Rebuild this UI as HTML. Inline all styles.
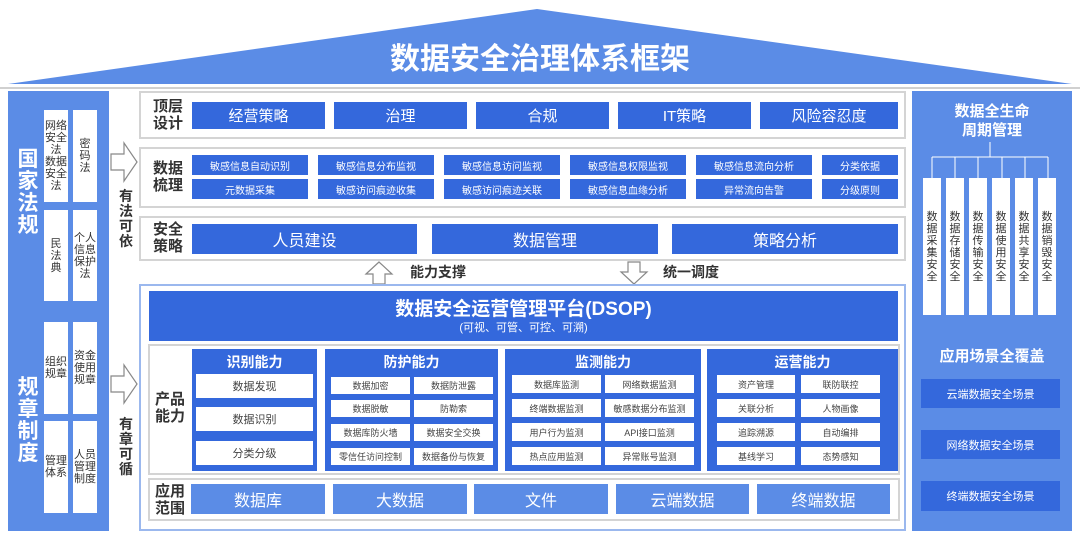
<!DOCTYPE html>
<html><head><meta charset="utf-8"><style>
*{margin:0;padding:0;box-sizing:border-box}
body{width:1080px;height:541px;background:#fff;position:relative;overflow:hidden;font-family:"Liberation Sans","Noto Sans CJK SC",sans-serif}
.a{position:absolute}
.c{display:flex;align-items:center;justify-content:center;text-align:center}
.b{background:#3468dc;color:#fff}
.lb{background:#5b8ce6}
.w{background:#fff;color:#444}
.g{border:2px solid #d4d4d4;background:#fff}
.lab{font-weight:bold;color:#333;font-size:15px;line-height:17px}
.vt{font-size:11px;line-height:12px;color:#333}
</style></head><body>
<svg class="a" style="left:0;top:0" width="1080" height="92">
<polygon points="8,84 537,9 1072,84" fill="#5b8ce6"/>
<line x1="0" y1="88" x2="1080" y2="88" stroke="#d0d0d0" stroke-width="2"/>
</svg>
<div class="a c" style="left:300px;top:36px;width:480px;height:40px;color:#fff;font-size:30px;font-weight:bold">数据安全治理体系框架</div>

<!-- left panel -->
<div class="a lb" style="left:8px;top:91px;width:101px;height:440px"></div>
<div class="a c" style="left:16px;top:150px;width:24px;height:85px;color:#fff;font-size:21px;font-weight:bold;line-height:22px">国<br>家<br>法<br>规</div>
<div class="a c" style="left:16px;top:378px;width:24px;height:85px;color:#fff;font-size:21px;font-weight:bold;line-height:22px">规<br>章<br>制<br>度</div>
<div class="a c w vt" style="left:44px;top:110px;width:24px;height:92px">网络<br>安全<br>法<br>数据<br>安全<br>法</div>
<div class="a c w vt" style="left:73px;top:110px;width:24px;height:92px">密<br>码<br>法</div>
<div class="a c w vt" style="left:44px;top:210px;width:24px;height:91px">民<br>法<br>典</div>
<div class="a c w vt" style="left:73px;top:210px;width:24px;height:91px">个人<br>信息<br>保护<br>法</div>
<div class="a c w vt" style="left:44px;top:322px;width:24px;height:92px">组织<br>规章</div>
<div class="a c w vt" style="left:73px;top:322px;width:24px;height:92px">资金<br>使用<br>规章</div>
<div class="a c w vt" style="left:44px;top:421px;width:24px;height:92px">管理<br>体系</div>
<div class="a c w vt" style="left:73px;top:421px;width:24px;height:92px">人员<br>管理<br>制度</div>

<svg class="a" style="left:108px;top:140px" width="32" height="270">
<polygon points="3,14 16,14 16,3 29,22 16,41 16,30 3,30" fill="#fff" stroke="#888" stroke-width="1.2"/>
<polygon points="3,236 16,236 16,225 29,244 16,263 16,252 3,252" fill="#fff" stroke="#888" stroke-width="1.2"/>
</svg>
<div class="a c lab" style="left:116px;top:188px;width:20px;height:62px;font-size:14px;line-height:15px">有<br>法<br>可<br>依</div>
<div class="a c lab" style="left:116px;top:416px;width:20px;height:62px;font-size:14px;line-height:15px">有<br>章<br>可<br>循</div>

<!-- top rows -->
<div class="a g" style="left:139px;top:91px;width:767px;height:48px"></div>
<div class="a c lab" style="left:146px;top:95px;width:44px;height:40px">顶层<br>设计</div>
<div class="a c b" style="left:192px;top:102px;width:133px;height:27px;font-size:15px">经营策略</div>
<div class="a c b" style="left:334px;top:102px;width:133px;height:27px;font-size:15px">治理</div>
<div class="a c b" style="left:476px;top:102px;width:133px;height:27px;font-size:15px">合规</div>
<div class="a c b" style="left:618px;top:102px;width:133px;height:27px;font-size:15px">IT策略</div>
<div class="a c b" style="left:760px;top:102px;width:138px;height:27px;font-size:15px">风险容忍度</div>

<div class="a g" style="left:139px;top:147px;width:767px;height:61px"></div>
<div class="a c lab" style="left:146px;top:157px;width:44px;height:40px">数据<br>梳理</div>
<div class="a c b" style="left:192px;top:155px;width:116px;height:20px;font-size:10px">敏感信息自动识别</div>
<div class="a c b" style="left:318px;top:155px;width:116px;height:20px;font-size:10px">敏感信息分布监视</div>
<div class="a c b" style="left:444px;top:155px;width:116px;height:20px;font-size:10px">敏感信息访问监视</div>
<div class="a c b" style="left:570px;top:155px;width:116px;height:20px;font-size:10px">敏感信息权限监视</div>
<div class="a c b" style="left:696px;top:155px;width:116px;height:20px;font-size:10px">敏感信息流向分析</div>
<div class="a c b" style="left:822px;top:155px;width:76px;height:20px;font-size:10px">分类依据</div>
<div class="a c b" style="left:192px;top:179px;width:116px;height:20px;font-size:10px">元数据采集</div>
<div class="a c b" style="left:318px;top:179px;width:116px;height:20px;font-size:10px">敏感访问痕迹收集</div>
<div class="a c b" style="left:444px;top:179px;width:116px;height:20px;font-size:10px">敏感访问痕迹关联</div>
<div class="a c b" style="left:570px;top:179px;width:116px;height:20px;font-size:10px">敏感信息血缘分析</div>
<div class="a c b" style="left:696px;top:179px;width:116px;height:20px;font-size:10px">异常流向告警</div>
<div class="a c b" style="left:822px;top:179px;width:76px;height:20px;font-size:10px">分级原则</div>

<div class="a g" style="left:139px;top:216px;width:767px;height:45px"></div>
<div class="a c lab" style="left:146px;top:218px;width:44px;height:40px">安全<br>策略</div>
<div class="a c b" style="left:192px;top:224px;width:225px;height:30px;font-size:16px">人员建设</div>
<div class="a c b" style="left:432px;top:224px;width:226px;height:30px;font-size:16px">数据管理</div>
<div class="a c b" style="left:672px;top:224px;width:226px;height:30px;font-size:16px">策略分析</div>

<svg class="a" style="left:360px;top:260px" width="310" height="26">
<polygon points="6,14 19,2 32,14 25,14 25,24 13,24 13,14" fill="#fff" stroke="#888" stroke-width="1.2"/>
<polygon points="261,12 268,12 268,2 280,2 280,12 287,12 274,24" fill="#fff" stroke="#888" stroke-width="1.2"/>
</svg>
<div class="a lab" style="left:410px;top:264px;font-size:14px">能力支撑</div>
<div class="a lab" style="left:663px;top:264px;font-size:14px">统一调度</div>

<!-- DSOP -->
<div class="a" style="left:139px;top:284px;width:767px;height:247px;border:2px solid #9bb8ee"></div>
<div class="a b" style="left:149px;top:291px;width:749px;height:50px"></div>
<div class="a c" style="left:149px;top:294px;width:749px;height:26px;color:#fff;font-size:19px;font-weight:bold">数据安全运营管理平台(DSOP)</div>
<div class="a c" style="left:149px;top:319px;width:749px;height:16px;color:#fff;font-size:11px">(可视、可管、可控、可溯)</div>

<div class="a g" style="left:148px;top:344px;width:752px;height:131px"></div>
<div class="a c lab" style="left:152px;top:388px;width:36px;height:40px">产品<br>能力</div>

<div class="a b" style="left:192px;top:349px;width:125px;height:122px"></div>
<div class="a c" style="left:192px;top:351px;width:125px;height:22px;color:#fff;font-weight:bold;font-size:14px">识别能力</div>
<div class="a c w" style="left:196px;top:374px;width:117px;height:24px;font-size:11px">数据发现</div>
<div class="a c w" style="left:196px;top:407px;width:117px;height:24px;font-size:11px">数据识别</div>
<div class="a c w" style="left:196px;top:441px;width:117px;height:24px;font-size:11px">分类分级</div>

<div class="a b" style="left:325px;top:349px;width:173px;height:122px"></div>
<div class="a c" style="left:325px;top:351px;width:173px;height:22px;color:#fff;font-weight:bold;font-size:14px">防护能力</div>
<div class="a c w" style="left:331px;top:377px;width:79px;height:17px;font-size:9px">数据加密</div>
<div class="a c w" style="left:414px;top:377px;width:79px;height:17px;font-size:9px">数据防泄露</div>
<div class="a c w" style="left:331px;top:400px;width:79px;height:17px;font-size:9px">数据脱敏</div>
<div class="a c w" style="left:414px;top:400px;width:79px;height:17px;font-size:9px">防勒索</div>
<div class="a c w" style="left:331px;top:424px;width:79px;height:17px;font-size:9px">数据库防火墙</div>
<div class="a c w" style="left:414px;top:424px;width:79px;height:17px;font-size:9px">数据安全交换</div>
<div class="a c w" style="left:331px;top:448px;width:79px;height:17px;font-size:9px">零信任访问控制</div>
<div class="a c w" style="left:414px;top:448px;width:79px;height:17px;font-size:9px">数据备份与恢复</div>

<div class="a b" style="left:505px;top:349px;width:196px;height:122px"></div>
<div class="a c" style="left:505px;top:351px;width:196px;height:22px;color:#fff;font-weight:bold;font-size:14px">监测能力</div>
<div class="a c w" style="left:512px;top:375px;width:89px;height:18px;font-size:9px">数据库监测</div>
<div class="a c w" style="left:605px;top:375px;width:89px;height:18px;font-size:9px">网络数据监测</div>
<div class="a c w" style="left:512px;top:399px;width:89px;height:18px;font-size:9px">终端数据监测</div>
<div class="a c w" style="left:605px;top:399px;width:89px;height:18px;font-size:9px">敏感数据分布监测</div>
<div class="a c w" style="left:512px;top:423px;width:89px;height:18px;font-size:9px">用户行为监测</div>
<div class="a c w" style="left:605px;top:423px;width:89px;height:18px;font-size:9px">API接口监测</div>
<div class="a c w" style="left:512px;top:447px;width:89px;height:18px;font-size:9px">热点应用监测</div>
<div class="a c w" style="left:605px;top:447px;width:89px;height:18px;font-size:9px">异常账号监测</div>

<div class="a b" style="left:707px;top:349px;width:191px;height:122px"></div>
<div class="a c" style="left:707px;top:351px;width:191px;height:22px;color:#fff;font-weight:bold;font-size:14px">运营能力</div>
<div class="a c w" style="left:717px;top:375px;width:78px;height:18px;font-size:9px">资产管理</div>
<div class="a c w" style="left:801px;top:375px;width:79px;height:18px;font-size:9px">联防联控</div>
<div class="a c w" style="left:717px;top:399px;width:78px;height:18px;font-size:9px">关联分析</div>
<div class="a c w" style="left:801px;top:399px;width:79px;height:18px;font-size:9px">人物画像</div>
<div class="a c w" style="left:717px;top:423px;width:78px;height:18px;font-size:9px">追踪溯源</div>
<div class="a c w" style="left:801px;top:423px;width:79px;height:18px;font-size:9px">自动编排</div>
<div class="a c w" style="left:717px;top:447px;width:78px;height:18px;font-size:9px">基线学习</div>
<div class="a c w" style="left:801px;top:447px;width:79px;height:18px;font-size:9px">态势感知</div>

<div class="a g" style="left:148px;top:478px;width:752px;height:43px"></div>
<div class="a c lab" style="left:152px;top:480px;width:36px;height:40px">应用<br>范围</div>
<div class="a c lb" style="left:191px;top:484px;width:134px;height:30px;color:#fff;font-size:16px">数据库</div>
<div class="a c lb" style="left:333px;top:484px;width:134px;height:30px;color:#fff;font-size:16px">大数据</div>
<div class="a c lb" style="left:474px;top:484px;width:134px;height:30px;color:#fff;font-size:16px">文件</div>
<div class="a c lb" style="left:616px;top:484px;width:133px;height:30px;color:#fff;font-size:16px">云端数据</div>
<div class="a c lb" style="left:757px;top:484px;width:133px;height:30px;color:#fff;font-size:16px">终端数据</div>

<!-- right panel -->
<div class="a lb" style="left:912px;top:91px;width:160px;height:440px"></div>
<div class="a c" style="left:912px;top:100px;width:160px;height:42px;color:#fff;font-weight:bold;font-size:15px;line-height:19px">数据全生命<br>周期管理</div>
<svg class="a" style="left:912px;top:140px" width="160" height="40">
<g stroke="#fff" stroke-width="1" fill="none">
<line x1="78" y1="2" x2="78" y2="17"/>
<line x1="20" y1="17" x2="136" y2="17"/>
<line x1="20" y1="17" x2="20" y2="38"/><line x1="43" y1="17" x2="43" y2="38"/><line x1="66" y1="17" x2="66" y2="38"/>
<line x1="90" y1="17" x2="90" y2="38"/><line x1="113" y1="17" x2="113" y2="38"/><line x1="136" y1="17" x2="136" y2="38"/>
</g></svg>
<div class="a c w vt" style="left:923px;top:178px;width:18px;height:137px">数<br>据<br>采<br>集<br>安<br>全</div>
<div class="a c w vt" style="left:946px;top:178px;width:18px;height:137px">数<br>据<br>存<br>储<br>安<br>全</div>
<div class="a c w vt" style="left:969px;top:178px;width:18px;height:137px">数<br>据<br>传<br>输<br>安<br>全</div>
<div class="a c w vt" style="left:992px;top:178px;width:18px;height:137px">数<br>据<br>使<br>用<br>安<br>全</div>
<div class="a c w vt" style="left:1015px;top:178px;width:18px;height:137px">数<br>据<br>共<br>享<br>安<br>全</div>
<div class="a c w vt" style="left:1038px;top:178px;width:18px;height:137px">数<br>据<br>销<br>毁<br>安<br>全</div>
<div class="a c" style="left:912px;top:344px;width:160px;height:22px;color:#fff;font-weight:bold;font-size:15px">应用场景全覆盖</div>
<div class="a c b" style="left:921px;top:379px;width:139px;height:29px;font-size:11px">云端数据安全场景</div>
<div class="a c b" style="left:921px;top:430px;width:139px;height:29px;font-size:11px">网络数据安全场景</div>
<div class="a c b" style="left:921px;top:481px;width:139px;height:30px;font-size:11px">终端数据安全场景</div>
</body></html>
